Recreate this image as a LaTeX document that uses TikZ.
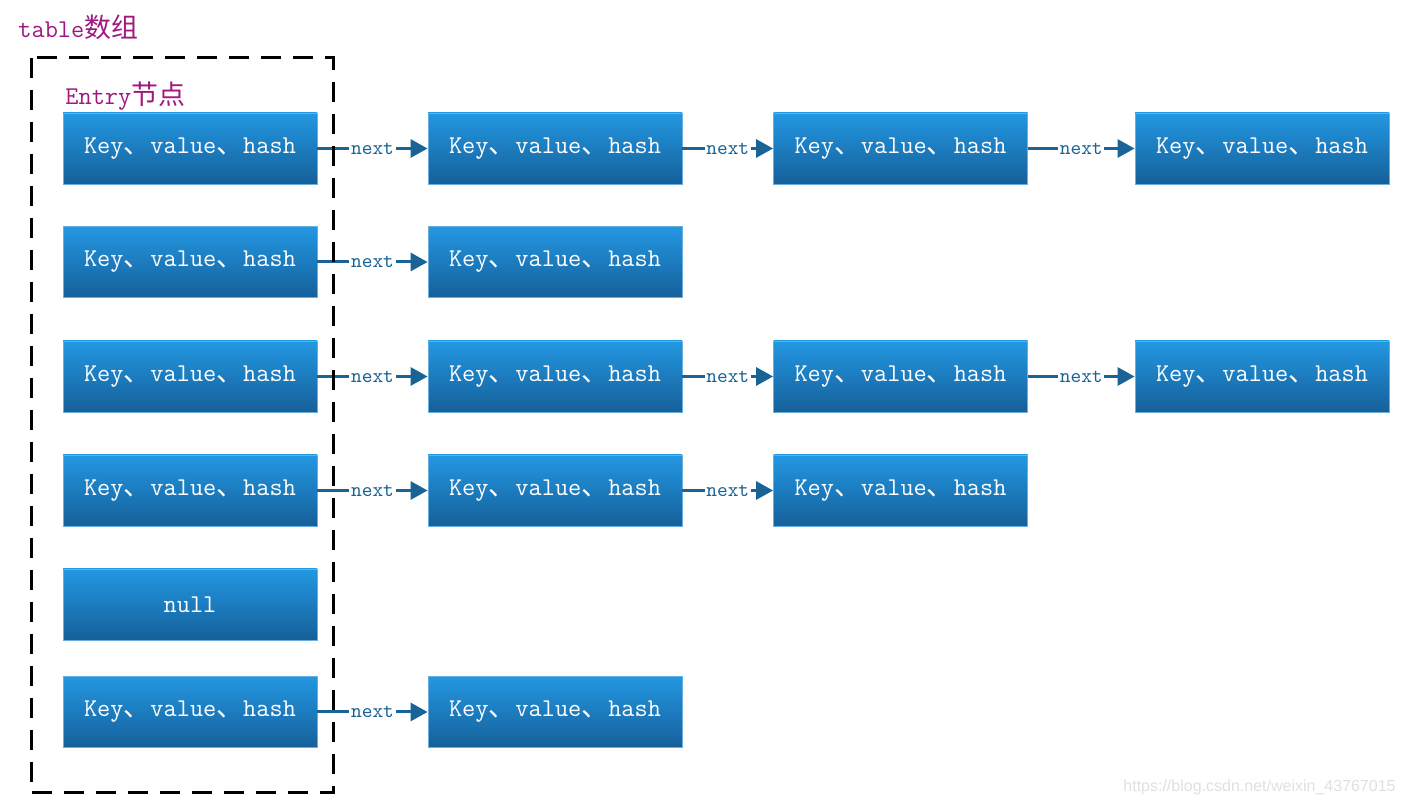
\documentclass[tikz,border=0pt]{standalone}
\usepackage{fontspec}
\newfontfamily\cjk[Scale=1.05]{Noto Sans CJK SC}
\newfontfamily\marksans{Liberation Sans}
\usetikzlibrary{arrows.meta}
\usetikzlibrary{positioning}
\definecolor{boxtop}{HTML}{2397E2}
\definecolor{boxbot}{HTML}{15609A}
\definecolor{boxedge}{HTML}{6AAEE0}
\definecolor{linkblue}{HTML}{1A6396}
\definecolor{titlepurple}{HTML}{A0177F}
\newcommand{\dun}{{\cjk 、}}
\newcommand{\entrytext}{Key\dun value\dun hash}
\begin{document}
\begin{tikzpicture}[x=0.5pt,y=-0.5pt,
  entrybox/.style={draw=boxedge,line width=0.4pt,top color=boxtop,bottom color=boxbot,
    minimum width=127pt,minimum height=35.5pt,inner sep=0pt,text=white,
    font=\ttfamily\fontsize{12.8}{14}\selectfont},
  nextlink/.style={draw=linkblue,line width=1.5pt,-{Triangle[length=8.5pt,width=9pt]}},
  nextlabel/.style={fill=white,inner sep=0.8pt,text=linkblue,font=\ttfamily\fontsize{10.2}{11}\selectfont},
  titletext/.style={anchor=west,inner sep=0pt,text=titlepurple,font=\ttfamily\fontsize{12.8}{14}\selectfont}]
\useasboundingbox (0,0) rectangle (1405,806);
\node[titletext] (tabletitle) at (18,27) {table{\cjk 数组}};
\node[titletext] (entrytitle) at (65,96) {Entry{\cjk 节点}};
\foreach \r/\y/\n in {1/148.5/4,2/262/2,3/376.5/4,4/490.5/3,6/712/2}
  \foreach \c/\x in {1/190,2/555,3/900.5,4/1262}
    {\ifnum\c>\n\else
      \node[entrybox] (e\r-\c) at (\x,\y) {\entrytext};
    \fi}
\node[entrybox] (e5-1) at (190,604.5) {null};
\foreach \r/\n in {1/4,2/2,3/4,4/3,6/2}
  \foreach \c [remember=\c as \p (initially 1)] in {2,...,\n}
    \draw[nextlink] (e\r-\p) -- node[nextlabel] {next} (e\r-\c);
\draw[line width=1.5pt,dash pattern=on 10pt off 6pt] (31,58) rectangle (333,793);
\node[anchor=east,inner sep=0pt,text=black!12,font=\marksans\fontsize{8}{9}\selectfont] (mark) at (1396,787) {https://blog.csdn.net/weixin\_43767015};
\end{tikzpicture}
\end{document}
